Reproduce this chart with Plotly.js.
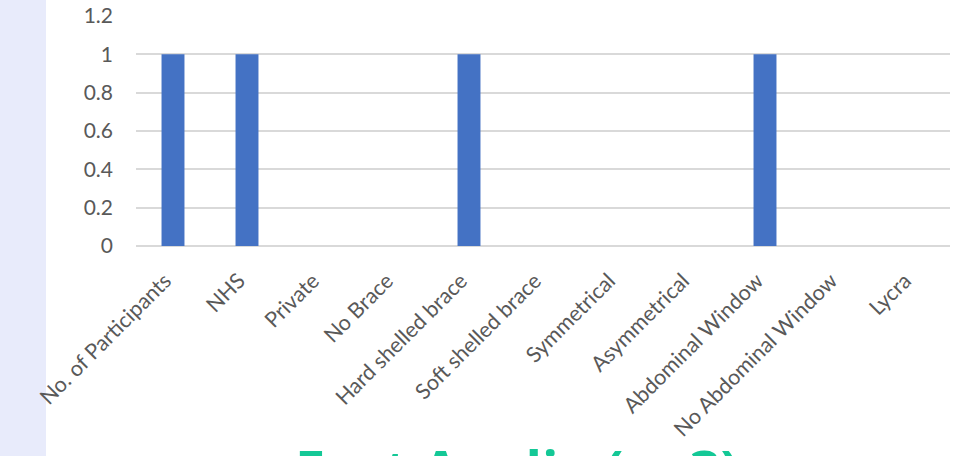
<!DOCTYPE html>
<html>
<head>
<meta charset="utf-8">
<script src="https://cdn.plot.ly/plotly-3.0.1.min.js"></script>
<style>html,body{margin:0;padding:0;background:#fff;}#chart{width:959px;height:456px;}</style>
</head>
<body>
<div id="chart"></div>
<script>
const categories = ["No. of Participants","NHS","Private","No Brace","Hard shelled brace","Soft shelled brace","Symmetrical","Asymmetrical","Abdominal Window","No Abdominal Window","Lycra"];
const values = [1,1,0,0,1,0,0,0,1,0,0];
const yTicks = [0,0.2,0.4,0.6,0.8,1,1.2];
const yTickLabels = ["0","0.2","0.4","0.6","0.8","1","1.2"];
const titleText = "East Anglia (n=3)";

const W = 959, H = 456;
const L = 136, R = 9, T = 16, B = 210;
const plotW = W - L - R, plotH = H - T - B;

const trace = {
  type: 'bar',
  x: categories,
  y: values,
  marker: {color: '#4472C4'},
  hoverinfo: 'x+y'
};

const layout = {
  width: W, height: H,
  margin: {l: L, r: R, t: T, b: B, pad: 0},
  paper_bgcolor: '#ffffff',
  plot_bgcolor: '#ffffff',
  showlegend: false,
  bargap: 0.69,
  font: {family: 'Lato, "Open Sans", sans-serif', color: '#595959'},
  xaxis: {
    type: 'category',
    tickangle: -45,
    tickfont: {family: 'Lato, sans-serif', size: 21.5, color: '#595959'},
    ticks: '',
    ticklabelstandoff: 17,
    ticklabelshift: -8,
    showgrid: false,
    showline: false,
    zeroline: false
  },
  yaxis: {
    range: [0, 1.2],
    tickvals: yTicks,
    ticktext: yTickLabels,
    tickfont: {family: 'Lato, sans-serif', size: 21, color: '#595959'},
    ticks: '',
    ticklabelstandoff: 22,
    showgrid: true,
    gridcolor: '#D9D9D9',
    gridwidth: 2,
    zeroline: true,
    zerolinecolor: '#D9D9D9',
    zerolinewidth: 2,
    showline: false
  },
  shapes: [{
    type: 'rect', xref: 'paper', yref: 'paper', layer: 'below',
    x0: (0 - L) / plotW, x1: (46 - L) / plotW,
    y0: (H - B - H) / plotH, y1: (H - B - 0) / plotH,
    fillcolor: '#E8EBFB', line: {width: 0}
  }],
  annotations: [{
    text: '<b>' + titleText + '</b>',
    xref: 'paper', yref: 'paper',
    x: (517 - L) / plotW, y: (H - B - 430) / plotH,
    xanchor: 'center', yanchor: 'top',
    showarrow: false,
    font: {family: '"Open Sans", sans-serif', size: 54, color: '#14C896'}
  }]
};

Plotly.newPlot('chart', [trace], layout, {displayModeBar: false, staticPlot: true});
</script>
</body>
</html>
